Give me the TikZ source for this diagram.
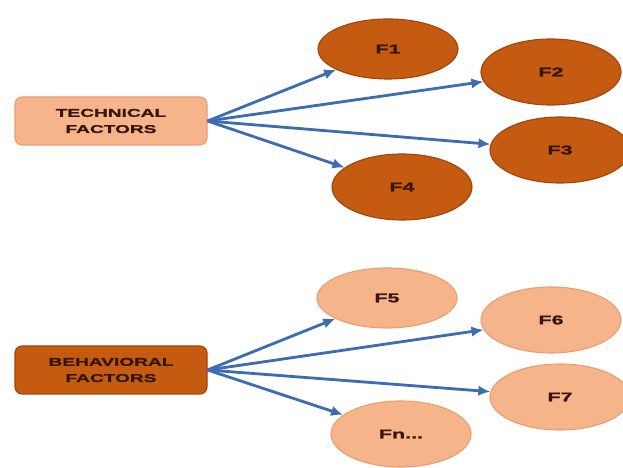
\documentclass[tikz,border=0pt]{standalone}
\usepackage{fontspec}
\newfontfamily\tagfont[FakeStretch=1.7, BoldFeatures={FakeBold=1.5}]{Liberation Sans}
\usetikzlibrary{shapes.geometric, arrows.meta}

\definecolor{darkorange}{RGB}{197,90,17}
\definecolor{darkrim}{RGB}{160,70,15}
\definecolor{peach}{RGB}{245,180,138}
\definecolor{peachrim}{RGB}{232,160,115}
\definecolor{flowblue}{RGB}{62,108,176}
\definecolor{tagtext}{RGB}{55,22,10}

\tikzset{
    groupbox/.style={draw, rounded corners=5pt, line width=0.8pt,
        minimum width=4.8cm, minimum height=1.2cm, align=center,
        text=tagtext, font=\tagfont\bfseries\fontsize{8}{11.5}\selectfont},
    factor/.style={ellipse, draw, line width=0.8pt,
        minimum width=3.5cm, minimum height=1.65cm,
        text=tagtext, font=\tagfont\bfseries\fontsize{9}{11}\selectfont},
    flow/.style={draw=flowblue, line width=2pt,
        -{Latex[length=3mm, width=2.6mm]}},
}

\begin{document}
\begin{tikzpicture}
            \useasboundingbox (0, 0) rectangle (15.575, 11.7);
            % technical group
            \node[groupbox, fill=peach, draw=peachrim] (tech) at (2.775, 8.675) {TECHNICAL\\FACTORS};
            \node[factor, fill=darkorange, draw=darkrim, minimum height=1.5cm] (f1) at (9.7, 10.475) {F1};
            \node[factor, fill=darkorange, draw=darkrim] (f2) at (13.775, 9.9) {F2};
            \node[factor, fill=darkorange, draw=darkrim] (f3) at (14.0, 7.95) {F3};
            \node[factor, fill=darkorange, draw=darkrim] (f4) at (10.05, 7.025) {F4};
            \foreach \f in {f1, f2, f3, f4} {
                \draw[flow] (tech.east) -- (\f);
            }
            % behavioral group
            \node[groupbox, fill=darkorange, draw=darkrim] (behav) at (2.775, 2.45) {BEHAVIORAL\\FACTORS};
            \node[factor, fill=peach, draw=peachrim, minimum height=1.5cm] (f5) at (9.675, 4.25) {F5};
            \node[factor, fill=peach, draw=peachrim] (f6) at (13.775, 3.7) {F6};
            \node[factor, fill=peach, draw=peachrim] (f7) at (14.0, 1.775) {F7};
            \node[factor, fill=peach, draw=peachrim] (fn) at (10.025, 0.85) {Fn...};
            \foreach \f in {f5, f6, f7, fn} {
                \draw[flow] (behav.east) -- (\f);
            }
        \end{tikzpicture}
\end{document}
